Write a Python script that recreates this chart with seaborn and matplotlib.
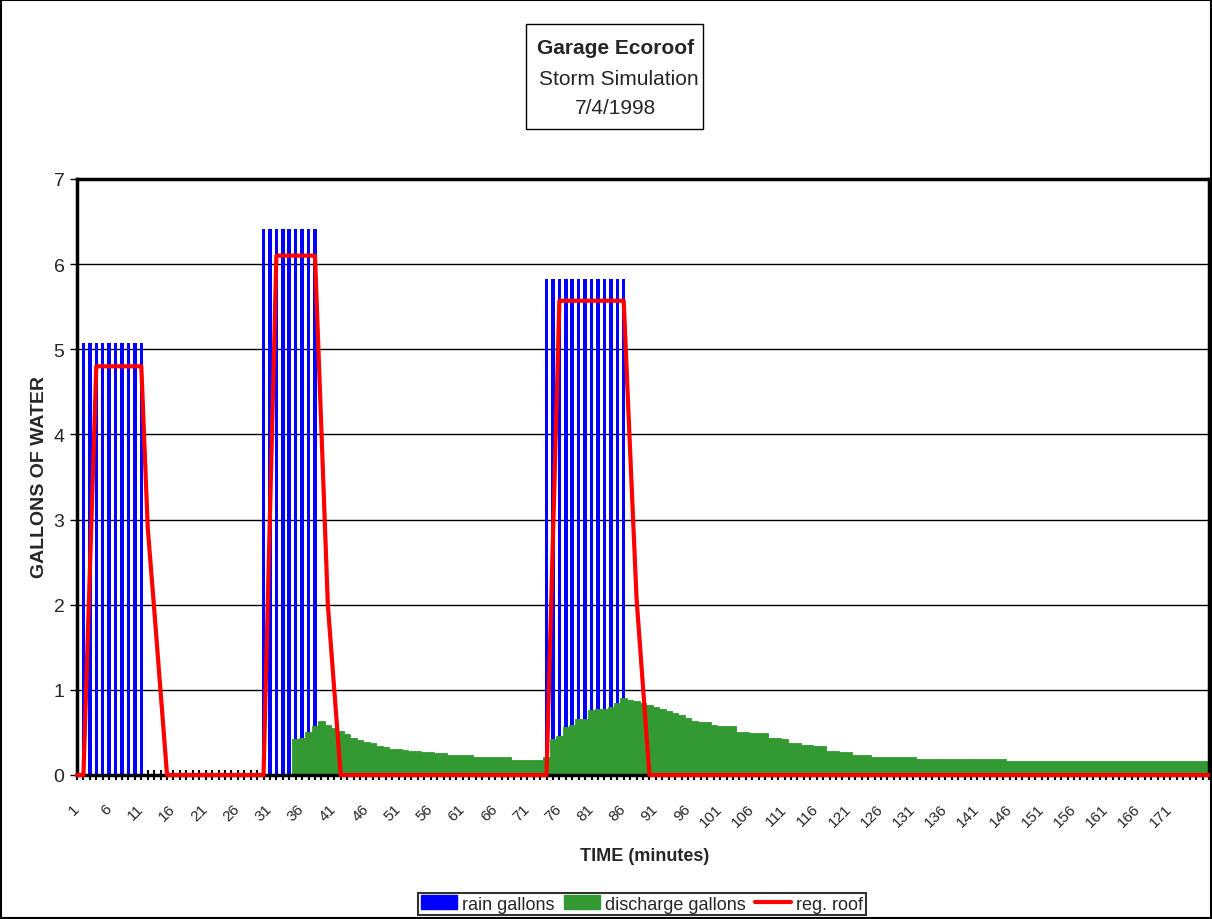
import numpy as np
import pandas as pd
import matplotlib.pyplot as plt
import seaborn as sns
from matplotlib.patches import Patch, Rectangle
from matplotlib.lines import Line2D

# Minutes of the storm simulation (one category per minute)
minutes = list(range(1, 178))

rain_gallons = [
    0, 5.07, 5.07, 5.07, 5.07, 5.07, 5.07, 5.07, 5.07, 5.07,
    5.07, 0, 0, 0, 0, 0, 0, 0, 0, 0,
    0, 0, 0, 0, 0, 0, 0, 0, 0, 6.41,
    6.41, 6.41, 6.41, 6.41, 6.41, 6.41, 6.41, 6.41, 0, 0,
    0, 0, 0, 0, 0, 0, 0, 0, 0, 0,
    0, 0, 0, 0, 0, 0, 0, 0, 0, 0,
    0, 0, 0, 0, 0, 0, 0, 0, 0, 0,
    0, 0, 0, 5.83, 5.83, 5.83, 5.83, 5.83, 5.83, 5.83,
    5.83, 5.83, 5.83, 5.83, 5.83, 5.83, 0, 0, 0, 0,
    0, 0, 0, 0, 0, 0, 0, 0, 0, 0,
    0, 0, 0, 0, 0, 0, 0, 0, 0, 0,
    0, 0, 0, 0, 0, 0, 0, 0, 0, 0,
    0, 0, 0, 0, 0, 0, 0, 0, 0, 0,
    0, 0, 0, 0, 0, 0, 0, 0, 0, 0,
    0, 0, 0, 0, 0, 0, 0, 0, 0, 0,
    0, 0, 0, 0, 0, 0, 0, 0, 0, 0,
    0, 0, 0, 0, 0, 0, 0, 0, 0, 0,
    0, 0, 0, 0, 0, 0, 0,
]

discharge_gallons = [
    0, 0, 0, 0, 0, 0, 0, 0, 0, 0,
    0, 0, 0, 0, 0, 0, 0, 0, 0, 0,
    0, 0, 0, 0, 0, 0, 0, 0, 0, 0,
    0, 0, 0, 0, 0.42, 0.44, 0.50, 0.57, 0.63, 0.59,
    0.55, 0.52, 0.48, 0.44, 0.41, 0.39, 0.37, 0.34, 0.33, 0.31,
    0.31, 0.29, 0.28, 0.28, 0.27, 0.27, 0.26, 0.26, 0.23, 0.23,
    0.23, 0.23, 0.21, 0.21, 0.21, 0.21, 0.21, 0.21, 0.18, 0.18,
    0.18, 0.18, 0.18, 0.21, 0.42, 0.46, 0.56, 0.59, 0.66, 0.66,
    0.76, 0.78, 0.78, 0.80, 0.84, 0.91, 0.88, 0.87, 0.85, 0.82,
    0.80, 0.78, 0.75, 0.73, 0.70, 0.67, 0.63, 0.62, 0.62, 0.59,
    0.57, 0.57, 0.57, 0.51, 0.50, 0.49, 0.49, 0.49, 0.44, 0.43,
    0.42, 0.38, 0.38, 0.35, 0.35, 0.34, 0.34, 0.28, 0.28, 0.27,
    0.27, 0.23, 0.23, 0.23, 0.21, 0.21, 0.21, 0.21, 0.21, 0.21,
    0.21, 0.19, 0.19, 0.19, 0.19, 0.19, 0.19, 0.19, 0.19, 0.19,
    0.19, 0.19, 0.19, 0.19, 0.19, 0.16, 0.16, 0.16, 0.16, 0.16,
    0.16, 0.16, 0.16, 0.16, 0.16, 0.16, 0.16, 0.16, 0.16, 0.16,
    0.16, 0.16, 0.16, 0.16, 0.16, 0.16, 0.16, 0.16, 0.16, 0.16,
    0.16, 0.16, 0.16, 0.16, 0.16, 0.16, 0.16,
]

reg_roof = [
    0, 0, 2.4, 4.8, 4.8, 4.8, 4.8, 4.8, 4.8, 4.8,
    4.8, 2.9, 1.95, 0.98, 0, 0, 0, 0, 0, 0,
    0, 0, 0, 0, 0, 0, 0, 0, 0, 0,
    3.05, 6.1, 6.1, 6.1, 6.1, 6.1, 6.1, 6.1, 4.05, 2.0,
    1.0, 0, 0, 0, 0, 0, 0, 0, 0, 0,
    0, 0, 0, 0, 0, 0, 0, 0, 0, 0,
    0, 0, 0, 0, 0, 0, 0, 0, 0, 0,
    0, 0, 0, 0, 2.8, 5.57, 5.57, 5.57, 5.57, 5.57,
    5.57, 5.57, 5.57, 5.57, 5.57, 5.57, 3.8, 2.07, 1.03, 0,
    0, 0, 0, 0, 0, 0, 0, 0, 0, 0,
    0, 0, 0, 0, 0, 0, 0, 0, 0, 0,
    0, 0, 0, 0, 0, 0, 0, 0, 0, 0,
    0, 0, 0, 0, 0, 0, 0, 0, 0, 0,
    0, 0, 0, 0, 0, 0, 0, 0, 0, 0,
    0, 0, 0, 0, 0, 0, 0, 0, 0, 0,
    0, 0, 0, 0, 0, 0, 0, 0, 0, 0,
    0, 0, 0, 0, 0, 0, 0, 0, 0, 0,
    0, 0, 0, 0, 0, 0, 0,
]

labeled_minutes = [1, 6, 11, 16, 21, 26, 31, 36, 41, 46, 51, 56, 61, 66, 71, 76, 81, 86,
                   91, 96, 101, 106, 111, 116, 121, 126, 131, 136, 141, 146, 151, 156,
                   161, 166, 171]
y_ticks = [0, 1, 2, 3, 4, 5, 6, 7]

df = pd.DataFrame({'minute': minutes, 'rain': rain_gallons,
                   'discharge': discharge_gallons, 'roof': reg_roof})

sns.set_style('ticks')
plt.rcParams['font.family'] = ['Liberation Sans', 'DejaVu Sans']

W, H = 1212, 920
fig = plt.figure(figsize=(W / 100, H / 100), dpi=100)
ax = fig.add_axes([77 / W, 1 - 776 / H, (1209 - 77) / W, (776 - 180) / H])

# horizontal grid behind the bars
for y in y_ticks[1:]:
    ax.axhline(y, color='black', linewidth=1, zorder=1)

sns.barplot(data=df, x='minute', y='rain', color='#0000ff', saturation=1,
            width=0.55, errorbar=None, linewidth=0, ax=ax, zorder=2)
sns.barplot(data=df, x='minute', y='discharge', color='#339933', saturation=1,
            width=1.0, errorbar=None, linewidth=0.6, edgecolor='#339933', ax=ax, zorder=3)
sns.lineplot(x=df.index, y=df['roof'], color='#ff0000', linewidth=3, ax=ax,
             zorder=5, clip_on=False)

ax.set_xlim(0, len(minutes) - 1)
ax.set_ylim(0, 7)
ax.set_yticks(y_ticks)
ax.set_xticks(df.index)
ax.set_xticklabels([str(m) if m in labeled_minutes else '' for m in minutes],
                   rotation=45, ha='right', va='center', rotation_mode='anchor')
ax.tick_params(axis='x', direction='inout', length=7, width=1.5, color='black',
               pad=19, labelsize=11, bottom=True)
ax.tick_params(axis='y', direction='out', length=5, width=1, color='black',
               labelsize=14, left=True, pad=4)
ax.set_xlabel('')
ax.set_ylabel('')
for side in ['left', 'right', 'top', 'bottom']:
    ax.spines[side].set_visible(True)
    ax.spines[side].set_color('black')
    ax.spines[side].set_linewidth(2.5)
    ax.spines[side].set_zorder(4)

fig.text(40 / W, 1 - 477 / H, 'GALLONS OF WATER', rotation=90, ha='center',
         va='center', fontsize=14, fontweight='bold')
fig.text(645 / W, 1 - 857 / H, 'TIME (minutes)', ha='center', va='center',
         fontsize=13, fontweight='bold')

# title box
fig.patches.append(Rectangle((526 / W, 1 - 130 / H), (703 - 526) / W, 105 / H,
                             transform=fig.transFigure, fill=False,
                             edgecolor='black', linewidth=1))
fig.text(616 / W, 1 - 48 / H, 'Garage Ecoroof', ha='center', va='center',
         fontsize=15, fontweight='bold')
fig.text(619 / W, 1 - 80 / H, 'Storm Simulation', ha='center', va='center', fontsize=15)
fig.text(616 / W, 1 - 109 / H, '7/4/1998', ha='center', va='center', fontsize=15)

# outer chart border
fig.patches.append(Rectangle((0.0008, 0.001), 0.9984, 0.998, transform=fig.transFigure,
                             fill=False, edgecolor='black', linewidth=1.5))

handles = [Patch(facecolor='#0000ff', edgecolor='#0000ff'),
           Patch(facecolor='#339933', edgecolor='#339933'),
           Line2D([0], [0], color='#ff0000', linewidth=3)]
leg = fig.legend(handles, ['rain gallons', 'discharge gallons', 'reg. roof'],
                 loc='center', bbox_to_anchor=(642 / W, 1 - 905 / H), ncol=3,
                 frameon=True, fancybox=False, edgecolor='black', fontsize=13,
                 handlelength=2.0, handleheight=0.8, columnspacing=0.5,
                 handletextpad=0.3, borderpad=0.15, borderaxespad=0)
leg.get_frame().set_linewidth(1.5)

fig.savefig('out.png', dpi=100, facecolor='white')
